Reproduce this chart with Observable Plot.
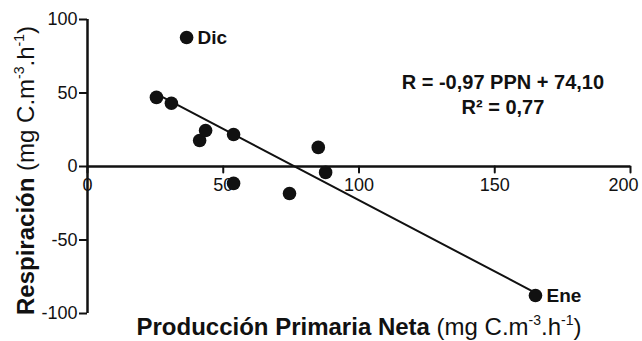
<!DOCTYPE html>
<html>
<head>
<meta charset="utf-8">
<script src="https://cdn.jsdelivr.net/npm/d3@7"></script>
<script src="https://cdn.jsdelivr.net/npm/@observablehq/plot@0.6"></script>
<style>
  html, body { margin: 0; padding: 0; background: #fff; }
  #chart svg { display: block; }
</style>
</head>
<body>
<div id="chart"></div>
<script>
// ---- data ----
const ppn  = [36.5, 25.4, 30.9, 41.3, 43.5, 53.8, 53.8, 74.4, 85.0, 87.7, 165.0];
const resp = [87.8, 47.0, 43.0, 17.7, 24.5, 21.8, -11.5, -18.4, 13.0, -4.0, -87.8];
const pointLabels = ["Dic", "", "", "", "", "", "", "", "", "", "Ene"];

const slope = -0.97;
const intercept = 74.10;
const eqLines = ["R = -0,97 PPN + 74,10", "R² = 0,77"];

const xTicks = [0, 50, 100, 150, 200];
const yTicks = [-100, -50, 0, 50, 100];

const xTitleParts = [
  {t: "Producción Primaria Neta", b: true},
  {t: " (mg C.m"}, {t: "-3", sup: true}, {t: ".h"}, {t: "-1", sup: true}, {t: ")"}
];
const yTitleParts = [
  {t: "Respiración", b: true},
  {t: " (mg C.m"}, {t: "-3", sup: true}, {t: ".h"}, {t: "-1", sup: true}, {t: ")"}
];

// ---- derived tables ----
const points = ppn.map((x, i) => ({x, y: resp[i], label: pointLabels[i]}));
const xMin = d3.min(ppn), xMax = d3.max(ppn);
const fitLine = [xMin, xMax].map(x => ({x, y: slope * x + intercept}));
const xTitle = xTitleParts.map(p => p.t).join("");
const yTitle = yTitleParts.map(p => p.t).join("");
const fmt = d => String(d);

const ink = "#111";
const tickShape = {draw(context, l) { context.moveTo(0, 0); context.lineTo(0, -l); }};

const chart = Plot.plot({
  width: 642,
  height: 341,
  marginLeft: 87,
  marginRight: 12,
  marginTop: 19,
  marginBottom: 28,
  style: {fontFamily: "'Liberation Sans', Arial, sans-serif", fontSize: "18px", color: ink, background: "#fff"},
  x: {domain: [0, 200], axis: null},
  y: {domain: [-100, 100], axis: null},
  marks: [
    Plot.axisY(yTicks, {tickSize: 8, tickPadding: 2, strokeWidth: 2, fontSize: 18, label: null, tickFormat: fmt, stroke: ink, fill: ink}),
    Plot.ruleX([0], {y1: -100, y2: 100, stroke: ink, strokeWidth: 2.5}),
    Plot.ruleY([0], {x1: 0, x2: 200, stroke: ink, strokeWidth: 2.5}),
    Plot.vector(xTicks, {x: d => d, y: 0, length: 6, rotate: 180, anchor: "start", shape: tickShape, stroke: ink, strokeWidth: 2}),
    Plot.text(xTicks.slice(0, -1), {x: d => d, y: 0, dy: 19, text: fmt, fontSize: 18, fill: ink}),
    Plot.text(xTicks.slice(-1), {x: d => d, y: 0, dy: 19, dx: 8, textAnchor: "end", text: fmt, fontSize: 18, fill: ink}),
    Plot.line(fitLine, {x: "x", y: "y", stroke: ink, strokeWidth: 2}),
    Plot.dot(points, {x: "x", y: "y", r: 6.8, fill: ink, stroke: "none"}),
    Plot.text(points.filter(d => d.label), {x: "x", y: "y", text: "label", dx: 11, textAnchor: "start", fontWeight: "bold", fontSize: 19, fill: ink}),
    Plot.text([eqLines.join("\n")], {x: 153, y: 49.4, text: d => d, lineAnchor: "middle", lineHeight: 1.22, fontWeight: "bold", fontSize: 20, fill: ink}),
    Plot.text([xTitle], {frameAnchor: "bottom", text: d => d, textAnchor: "middle", lineAnchor: "bottom", dy: 21, fontSize: 24, fill: ink}),
    Plot.text([yTitle], {frameAnchor: "left", text: d => d, textAnchor: "middle", rotate: -90, lineAnchor: "bottom", dx: -54, dy: 4, fontSize: 24, fill: ink})
  ]
});

// rich text (bold part + superscripts) for the axis titles
function enrich(svg, full, parts, size) {
  const shift = Math.round(size * 0.42);
  d3.select(svg).selectAll("text").filter(function() { return this.textContent === full; })
    .each(function() {
      const t = d3.select(this);
      t.text(null);
      let raised = false;
      parts.forEach(p => {
        const s = t.append("tspan").text(p.t);
        if (p.b) s.attr("font-weight", "bold");
        if (p.sup) {
          s.attr("font-size", Math.round(size * 0.6) + "px");
          if (!raised) s.attr("dy", -shift);
          raised = true;
        } else if (raised) {
          s.attr("dy", shift);
          raised = false;
        }
      });
    });
}
enrich(chart, xTitle, xTitleParts, 24);
enrich(chart, yTitle, yTitleParts, 24);

document.getElementById("chart").appendChild(chart);
</script>
</body>
</html>
